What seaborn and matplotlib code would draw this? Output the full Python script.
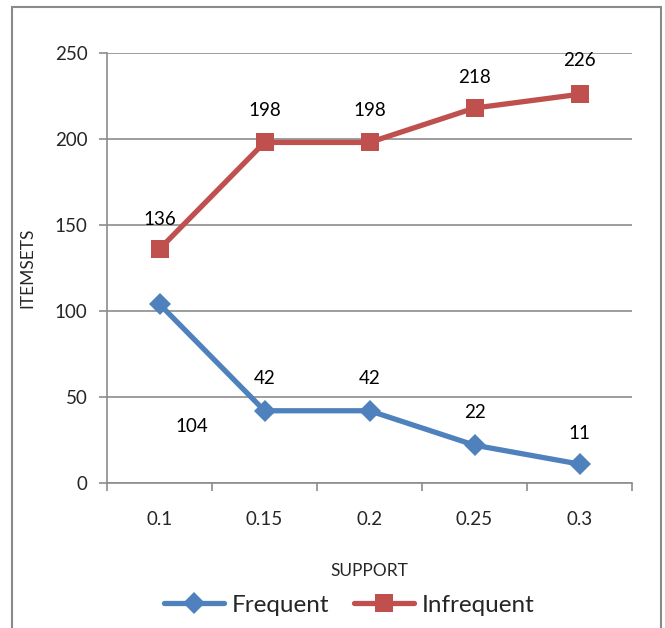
import matplotlib
matplotlib.use("Agg")
import matplotlib.pyplot as plt
from matplotlib.patches import Rectangle
from matplotlib.lines import Line2D
import seaborn as sns
import pandas as pd

# Data
support = ["0.1", "0.15", "0.2", "0.25", "0.3"]
frequent = [104, 42, 42, 22, 11]
infrequent = [136, 198, 198, 218, 226]
y_ticks = [0, 50, 100, 150, 200, 250]

BLUE = "#4F81BD"
RED = "#C0504D"
GRID = "#8C8C8C"

sns.set_theme(style="white")
plt.rcParams["font.family"] = ["Lato", "DejaVu Sans"]

W, H = 665, 628
fig = plt.figure(figsize=(W / 100, H / 100), dpi=100)

# Plot area in pixel coordinates
x0, x1, ytop, ybot = 107, 632, 53, 483
ax = fig.add_axes([x0 / W, 1 - ybot / H, (x1 - x0) / W, (ybot - ytop) / H])

df = pd.DataFrame({
    "pos": list(range(len(support))) * 2,
    "value": frequent + infrequent,
    "series": ["Frequent"] * len(support) + ["Infrequent"] * len(support),
})

sns.lineplot(
    data=df, x="pos", y="value", hue="series", style="series",
    palette={"Frequent": BLUE, "Infrequent": RED},
    markers={"Frequent": "D", "Infrequent": "s"}, dashes=False,
    linewidth=3.8, markersize=13, markeredgewidth=0, ax=ax, legend=False,
)
# diamonds a touch smaller than the squares
for line in ax.lines:
    if line.get_marker() == "D":
        line.set_markersize(11.5)

ax.set_xlim(-0.5, len(support) - 0.5)
ax.set_ylim(0, 250)
ax.set_yticks(y_ticks)
ax.set_yticklabels([str(v) for v in y_ticks], fontsize=13.5)
ax.set_xticks(range(len(support)))
ax.set_xticklabels(support, fontsize=13.5)
ax.set_xticks([i - 0.5 for i in range(len(support) + 1)], minor=True)

ax.grid(axis="y", color=GRID, linewidth=1.2)
ax.set_axisbelow(True)
for side in ["top", "right"]:
    ax.spines[side].set_visible(False)
for side in ["left", "bottom"]:
    ax.spines[side].set_color(GRID)
    ax.spines[side].set_linewidth(1.2)

ax.tick_params(axis="y", which="major", length=6, width=1.2, color=GRID, pad=8, left=True)
ax.tick_params(axis="x", which="major", length=0, pad=20)
ax.tick_params(axis="x", which="minor", length=6, width=1.2, color=GRID, bottom=True)

ax.set_xlabel("SUPPORT", fontsize=12.5)
ax.set_ylabel("ITEMSETS", fontsize=12.5)
ax.xaxis.set_label_coords(0.5, -(563 - ybot) / (ybot - ytop), transform=ax.transAxes)
ax.yaxis.set_label_coords(-(x0 - 35) / (x1 - x0), 0.5, transform=ax.transAxes)

# Data labels (offsets in pixels)
freq_offsets = [(32, -122), (0, 32), (0, 32), (0, 33), (0, 31)]
infreq_offsets = [(0, 30), (0, 32), (0, 32), (0, 31), (0, 34)]
for i, (v, off) in enumerate(zip(frequent, freq_offsets)):
    ax.annotate(str(v), (i, v), xytext=off, textcoords="offset pixels",
                ha="center", va="center", fontsize=13.5, color="black")
for i, (v, off) in enumerate(zip(infrequent, infreq_offsets)):
    ax.annotate(str(v), (i, v), xytext=off, textcoords="offset pixels",
                ha="center", va="center", fontsize=13.5, color="black")

# Legend
handles = [
    Line2D([], [], color=BLUE, marker="D", markersize=11.5, markeredgewidth=0, linewidth=3.8),
    Line2D([], [], color=RED, marker="s", markersize=13, markeredgewidth=0, linewidth=3.8),
]
fig.legend(handles, ["Frequent", "Infrequent"], loc="center",
           bbox_to_anchor=(349 / W, 1 - 605 / H), ncol=2, frameon=False,
           fontsize=17.5, handlelength=2.5, columnspacing=1.0, handletextpad=0.3)

# Chart frame
fig.patches.append(Rectangle((12 / W, -0.05), (661 - 12) / W, 1.05 - 7 / H,
                             transform=fig.transFigure, fill=False,
                             edgecolor="#8A8A8A", linewidth=1.5))

fig.savefig("out.png", dpi=100)
